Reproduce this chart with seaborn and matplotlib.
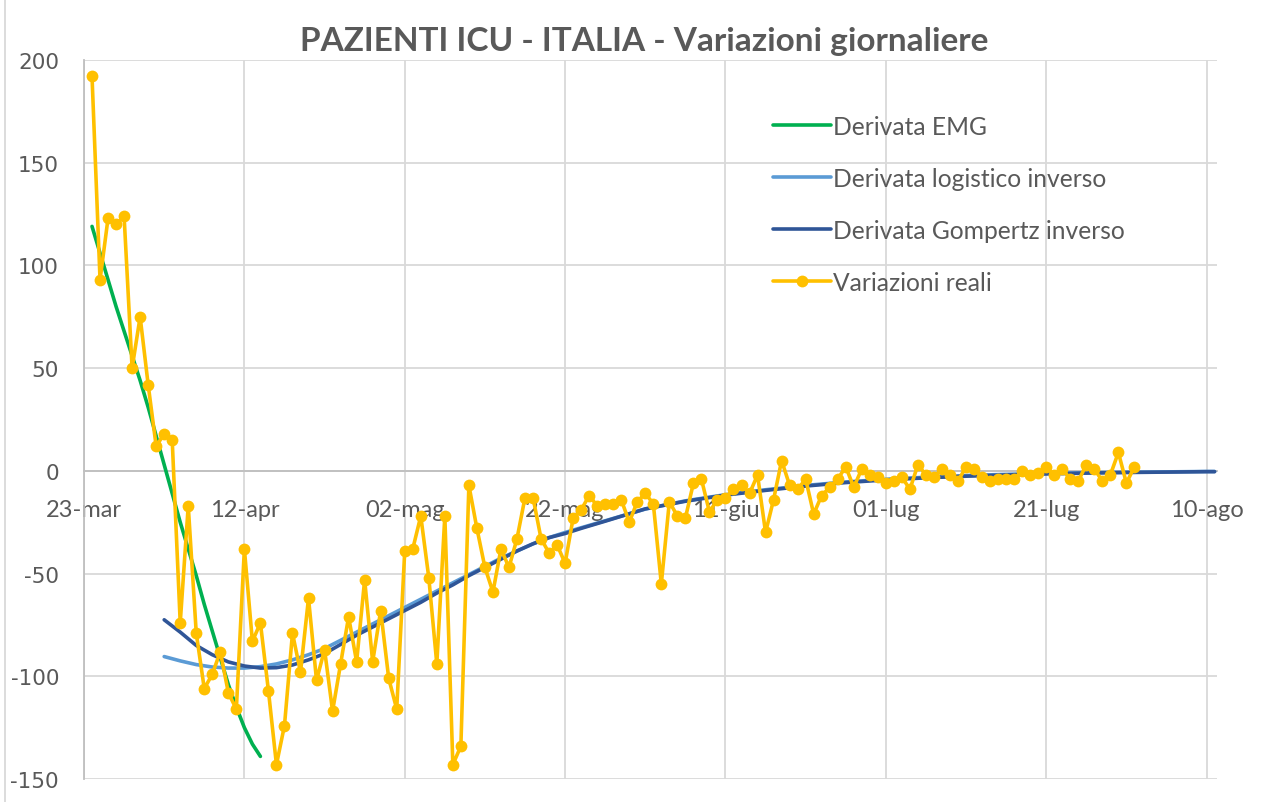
#!/usr/bin/env python3
"""PAZIENTI ICU - ITALIA: daily changes vs. fitted model derivatives.

Produces out.png (1265x803).
"""

import matplotlib
matplotlib.use("Agg")  # non-interactive backend
import matplotlib.pyplot as plt
import pandas as pd
import seaborn as sns
from matplotlib.lines import Line2D

START = pd.Timestamp("2020-03-23")

# --- Data ---------------------------------------------------------------
# Variazioni reali: one value per day, day 1 = 24-mar
real_days = list(range(1, 132))
real_values = [
    192, 93, 123, 120, 124, 50, 75, 42, 12, 18, 15,
    -74, -17, -79, -106, -99, -88, -108, -116,
    -38, -83, -74, -107, -143, -124, -79, -98, -62, -102,
    -87, -117, -94, -71, -93, -53, -93, -68, -101, -116,
    -39, -38, -22, -52, -94, -22, -143, -134, -7, -28,
    -47, -59, -38, -47, -33, -13, -13, -33, -40, -36,
    -45, -23, -19, -12, -17, -16, -16, -14, -25, -15,
    -11, -16, -55, -15, -22, -23, -6, -4, -20, -14,
    -13, -9, -7, -11, -2, -30, -14, 5, -7, -9,
    -4, -21, -12, -8, -4, 2, -8, 1, -2, -3,
    -6, -5, -3, -9, 3, -2, -3, 1, -2, -5,
    2, 1, -3, -5, -4, -4, -4, 0, -2, -1,
    2, -2, 1, -4, -5, 3, 1, -5, -2, 9,
    -6, 2,
]

# Derivata EMG (days 1..22)
emg_days = list(range(1, 23))
emg_values = [
    119, 106, 93, 80, 68, 56, 44, 31, 17, 3, -11,
    -25, -38, -51, -65, -78, -91, -104, -115, -125, -133, -139,
]

# Derivata logistico / Gompertz inverso, read at these days
model_days = [
    10, 12, 14, 16, 18, 20, 22, 24, 26, 28, 30, 32, 34, 36, 38, 40,
    42, 44, 46, 48, 50, 52, 54, 56, 58, 60, 62,
    65, 70, 75, 80, 85, 90, 95, 100, 105, 110, 115, 120, 125, 130, 135, 140, 141,
]
logistic_values = [
    -90.4, -92.5, -94.3, -95.5, -96, -96, -95.3, -94, -92, -89.5, -86.5, -82.5,
    -78.5, -74.5, -70.5, -66.5, -62.5, -58.5, -54.5, -50.5, -46.5, -42.5, -39,
    -35.5, -32.5, -30, -27.7,
    -24.3, -18.6, -14.6, -11.6, -9.2, -7.1, -5.4, -4.1, -3.1, -2.3, -1.7, -1.2,
    -0.9, -0.7, -0.5, -0.3, -0.3,
]
gompertz_values = [
    -72.5, -78.5, -85, -89.5, -93, -95, -96, -95.8, -94.5, -92, -89, -84.5,
    -80, -76, -72, -68, -64, -59.5, -55.5, -51, -47, -43, -39,
    -35.5, -32.5, -30.5, -28,
    -24.5, -18.5, -14.8, -11.8, -9.5, -7.4, -5.7, -4.4, -3.4, -2.6, -2.0, -1.5,
    -1.1, -0.8, -0.6, -0.4, -0.4,
]

tick_days = [0, 20, 40, 60, 80, 100, 120, 140]
tick_labels = ["23-mar", "12-apr", "02-mag", "22-mag", "11-giu", "01-lug", "21-lug", "10-ago"]
y_ticks = [-150, -100, -50, 0, 50, 100, 150, 200]

TEXT = "#595959"
GRID = "#D9D9D9"
AXIS = "#BFBFBF"


def to_dates(days):
    return START + pd.to_timedelta(days, unit="D")


def main():
    sns.set_theme(style="white")
    plt.rcParams["font.family"] = ["Lato", "DejaVu Sans"]

    fig = plt.figure(figsize=(12.65, 8.03), dpi=100)
    ax = fig.add_axes([84 / 1265, 1 - 780 / 803, (1217 - 84) / 1265, (780 - 61) / 803])

    sns.lineplot(x=to_dates(emg_days), y=emg_values, ax=ax, color="#00B050",
                 lw=2.6, label="Derivata EMG")
    sns.lineplot(x=to_dates(model_days), y=logistic_values, ax=ax, color="#5B9BD5",
                 lw=2.6, label="Derivata logistico inverso")
    sns.lineplot(x=to_dates(model_days), y=gompertz_values, ax=ax, color="#2F5597",
                 lw=2.6, label="Derivata Gompertz inverso")
    sns.lineplot(x=to_dates(real_days), y=real_values, ax=ax, color="#FFC000",
                 lw=2.6, marker="o", markersize=8.5, markeredgewidth=0,
                 label="Variazioni reali")

    # --- Axes ------------------------------------------------------------
    ax.set_xlim(START, START + pd.Timedelta(days=141.3))
    ax.set_ylim(-150, 200)
    ax.set_xticks(to_dates(tick_days))
    ax.set_xticklabels(tick_labels)
    ax.set_yticks(y_ticks)
    ax.set_yticklabels([str(v) for v in y_ticks], family="DejaVu Sans")
    ax.set_xlabel("")
    ax.set_ylabel("")

    ax.grid(True, color=GRID, lw=1.3)
    ax.set_axisbelow(True)
    for side in ("top", "right"):
        ax.spines[side].set_visible(False)
    ax.spines["bottom"].set_position(("data", 0))
    for side in ("bottom", "left"):
        ax.spines[side].set_color(AXIS)
        ax.spines[side].set_linewidth(1.3)
        ax.spines[side].set_zorder(1.5)

    ax.tick_params(axis="x", direction="out", length=5, width=1.3, color=AXIS,
                   pad=15, labelsize=17, labelcolor=TEXT)
    ax.tick_params(axis="y", direction="out", length=6, width=1.3, color=AXIS,
                   pad=12, labelsize=15.5, labelcolor=TEXT)
    ax.patch.set_alpha(0)

    # --- Legend ----------------------------------------------------------
    handles, labels = ax.get_legend_handles_labels()
    ax.legend(handles, labels, loc="upper left", frameon=False,
              bbox_to_anchor=(773 / 1265, 1 - 116 / 803), bbox_transform=fig.transFigure,
              borderpad=0, borderaxespad=0, handlelength=2.35, handletextpad=0.1,
              labelspacing=1.18, fontsize=17.7, labelcolor=TEXT)

    # --- Title / frame ---------------------------------------------------
    fig.text(644 / 1265, 1 - 42 / 803, "PAZIENTI ICU - ITALIA - Variazioni giornaliere",
             ha="center", va="center", fontsize=24, fontweight="bold", color=TEXT)
    fig.add_artist(Line2D([5 / 1265, 5 / 1265], [0, 1], transform=fig.transFigure,
                          color=GRID, lw=1.3))

    fig.savefig("out.png", dpi=100)
    plt.close(fig)


if __name__ == "__main__":
    main()
